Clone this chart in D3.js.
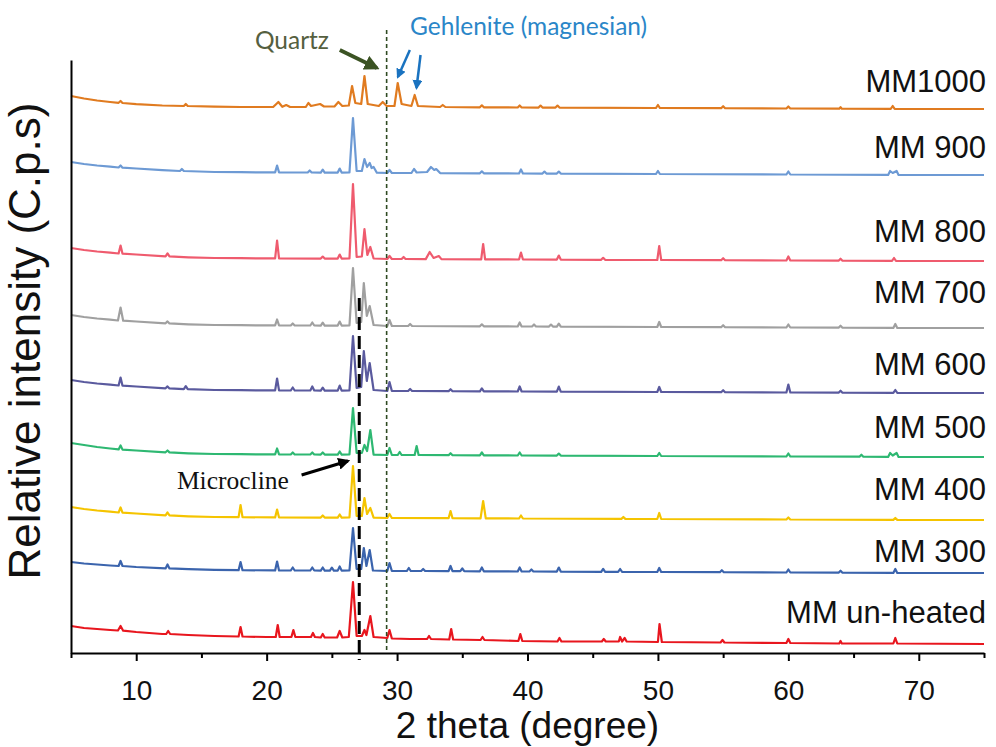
<!DOCTYPE html>
<html>
<head>
<meta charset="utf-8">
<script src="https://cdn.jsdelivr.net/npm/d3@7"></script>
<style>
  body { margin: 0; background: #fff; }
  svg { display: block; }
</style>
</head>
<body>
<svg width="996" height="747"></svg>
<script>
// sample names, bottom to top, and their line colours
var names = ["MM un-heated", "MM 300", "MM 400", "MM 500", "MM 600", "MM 700", "MM 800", "MM 900", "MM1000"];
var colors = ["#e8161e", "#3b64ad", "#f5c400", "#2eb872", "#5a5a9e", "#a0a0a0", "#ef5b6e", "#6d9ad4", "#e07b20"];
// vertical shift of each pattern (C.p.s)
var offsets = [1, 72, 125, 188, 252, 317, 384, 470, 536];
// where each name sits on the intensity scale
var labelAt = [29.7, 91.3, 153, 214.7, 278, 349.7, 411.3, 494.7, 561.3];

// diffractograms: [2 theta, intensity]
var unheated = [[5,26],[6,24],[7,23],[8,22],[8.6,21.5],[8.8,26],[9.0,21.3],[10,20],[12,18],[12.3,18],[12.45,21],[12.6,18],[14,17],[16,16],[17.85,15.5],[18.0,25],[18.15,15.5],[20,15],[20.7,15],[20.85,27],[21.0,15],[21.9,15],[22.05,22],[22.2,15],[23.4,15],[23.55,19],[23.7,15],[24.15,14.5],[24.3,18],[24.45,14.5],[25.4,14.5],[25.6,21],[25.8,14.5],[26.3,15],[26.62,70],[26.9,16],[27.3,16],[27.5,22],[27.65,17],[27.95,36],[28.2,15],[29.25,14],[29.42,22],[29.6,13.5],[31,13],[32.3,13],[32.45,16],[32.6,13],[34,12.5],[34.15,23],[34.3,12.5],[36.4,12],[36.55,15],[36.7,12],[39.3,11],[39.45,18],[39.6,11],[42.3,10.5],[42.45,14],[42.6,10.5],[45.7,10.5],[45.85,13],[46,10.5],[47,10.5],[47.1,15],[47.25,10.5],[47.45,14],[47.6,10.5],[50,10],[50.12,28],[50.3,10],[54.8,9.5],[54.95,12],[55.1,9.5],[59.85,9],[60,13],[60.15,9],[63.9,8.5],[64.0,11],[64.1,8.5],[68.05,8.5],[68.2,14],[68.35,8.5],[75,8]];

var mm300 = [[5,19],[6,17.5],[7,16.5],[8,15.5],[8.65,15],[8.8,20],[8.95,15],[10,14],[12.25,12.6],[12.4,16.5],[12.55,12.6],[14,11.8],[16,11.2],[17.85,10.8],[18,19],[18.15,10.8],[20.65,10.6],[20.8,19.5],[20.95,10.6],[21.85,10.5],[22,13.5],[22.15,10.5],[23.35,10.5],[23.5,13.5],[23.65,10.5],[24.15,10.4],[24.3,13.5],[24.45,10.4],[24.85,10.4],[25,13.4],[25.15,10.4],[25.45,10.4],[25.6,14.5],[25.75,10.4],[26.35,10.5],[26.62,53],[26.9,12],[27.25,12],[27.45,33],[27.65,15],[27.9,31],[28.15,10.5],[29.25,10],[29.42,18],[29.6,10],[30.75,10],[30.9,13],[31.05,10],[31.85,10],[32,12],[32.15,10],[33.95,9.8],[34.1,15],[34.25,9.8],[34.85,9.8],[35,12.5],[35.15,9.8],[36.35,9.7],[36.5,13.5],[36.65,9.7],[39.25,9.5],[39.4,13.5],[39.55,9.5],[40.15,9.5],[40.3,11.5],[40.45,9.5],[42.25,9.4],[42.4,13.4],[42.55,9.4],[45.65,9.2],[45.8,12.2],[45.95,9.2],[46.95,9.1],[47.1,12],[47.25,9.1],[49.95,9],[50.1,13],[50.25,9],[54.75,8.8],[54.9,10.8],[55.05,8.8],[59.85,8.5],[60,11.5],[60.15,8.5],[63.85,8.3],[64,10.3],[64.15,8.3],[68.05,8.1],[68.2,12],[68.35,8.1],[75,8]];

var mm400 = [[5,21],[6,19],[7,17.5],[8,16.3],[8.65,15.5],[8.8,20.5],[8.95,15.3],[10,14.5],[12.25,12.7],[12.4,15.5],[12.55,12.6],[14,11.7],[16,11],[17.85,10.8],[18,23],[18.15,10.8],[20.65,10.6],[20.8,18.5],[20.95,10.6],[24.15,10.4],[24.3,12.5],[24.45,10.4],[25.45,10.4],[25.6,13.5],[25.75,10.4],[26.35,10.5],[26.62,62],[26.9,12],[27.3,12],[27.5,30],[27.7,14],[27.95,20],[28.2,10.3],[29.25,10],[29.42,14],[29.6,10],[33.95,9.8],[34.1,17],[34.25,9.8],[36.4,9.7],[36.6,27],[36.8,9.7],[39.35,9.5],[39.5,12.5],[39.65,9.5],[47.2,9.1],[47.35,11],[47.5,9.1],[49.95,9],[50.1,15],[50.25,9],[59.85,8.5],[60,10.5],[60.15,8.5],[68.05,8.1],[68.2,10],[68.35,8.1],[75,8]];

var mm500 = [[5,22],[6,20],[7,18],[8,16.5],[8.65,15.6],[8.8,19.5],[8.95,15.4],[10,14.5],[12.25,12.7],[12.4,14.5],[12.55,12.6],[14,11.7],[16,11],[18,10.8],[20.65,10.6],[20.8,16.5],[20.95,10.6],[21.85,10.5],[22,12.5],[22.15,10.5],[23.35,10.5],[23.5,12.5],[23.65,10.5],[24.15,10.4],[24.3,12.5],[24.45,10.4],[25.45,10.4],[25.6,13.5],[25.75,10.4],[26.35,10.5],[26.62,57],[26.9,12],[27.3,12],[27.5,20],[27.7,14],[27.95,35],[28.2,10.3],[29.25,10],[29.42,17],[29.6,10],[30.05,10],[30.2,13],[30.35,10],[31.35,10],[31.5,19],[31.65,10],[33.95,9.8],[34.1,11.8],[34.25,9.8],[36.35,9.7],[36.5,12.5],[36.65,9.7],[39.25,9.5],[39.4,12.5],[39.55,9.5],[42.25,9.4],[42.4,11.4],[42.55,9.4],[49.95,9],[50.1,12],[50.25,9],[59.85,8.5],[60,11.5],[60.15,8.5],[65.45,8.3],[65.6,10.3],[65.75,8.3],[67.65,8.1],[67.8,12],[68.0,9.5],[68.3,12],[68.45,8.1],[75,8]];

var mm600 = [[5,21],[6,19],[7,17.5],[8,16.3],[8.65,15.5],[8.8,23.5],[8.95,15.3],[10,14.5],[12.25,12.7],[12.4,14.6],[12.55,12.6],[13.65,11.8],[13.8,14.8],[13.95,11.8],[16,11],[18,10.8],[20.65,10.6],[20.8,22.5],[20.95,10.6],[21.85,10.5],[22,13.5],[22.15,10.5],[23.35,10.5],[23.5,14.5],[23.65,10.5],[24.15,10.4],[24.3,13.4],[24.45,10.4],[25.45,10.4],[25.6,15.4],[25.75,10.4],[26.35,10.5],[26.62,65],[26.9,13],[27.25,14],[27.45,50],[27.68,20],[27.9,38],[28.2,11],[29.25,10],[29.42,19],[29.6,10],[30.85,10],[31,12],[31.15,10],[33.95,9.8],[34.1,11.8],[34.25,9.8],[36.35,9.7],[36.5,12.7],[36.65,9.7],[39.25,9.5],[39.4,14.5],[39.55,9.5],[42.25,9.4],[42.4,14.4],[42.55,9.4],[49.95,9],[50.1,14],[50.25,9],[54.85,8.8],[55,10.8],[55.15,8.8],[59.85,8.5],[60,16.5],[60.15,8.5],[63.85,8.3],[64,10.3],[64.15,8.3],[68.05,8.1],[68.2,11],[68.35,8.1],[75,8]];

var mm700 = [[5,21],[6,19],[7,17.5],[8,16.3],[8.6,15.5],[8.8,28.5],[9.0,15.3],[10,14.5],[12.25,12.7],[12.4,14.6],[12.55,12.6],[14,11.7],[16,11],[18,10.8],[20.65,10.6],[20.8,16.5],[20.95,10.6],[21.85,10.5],[22,12.5],[22.15,10.5],[23.35,10.5],[23.5,13.5],[23.65,10.5],[24.15,10.4],[24.3,13.4],[24.45,10.4],[25.45,10.4],[25.6,14.4],[25.75,10.4],[26.35,10.5],[26.62,68],[26.9,13],[27.25,14],[27.45,53],[27.68,20],[27.9,30],[28.2,11],[29.25,10],[29.42,16],[29.6,10],[30.85,10],[31,12],[31.15,10],[36.35,9.7],[36.5,11.7],[36.65,9.7],[39.25,9.5],[39.4,13.5],[39.55,9.5],[40.35,9.5],[40.5,11.5],[40.65,9.5],[41.65,9.4],[41.8,11.4],[41.95,9.4],[42.25,9.4],[42.4,12.4],[42.55,9.4],[49.95,9],[50.1,14],[50.25,9],[54.85,8.8],[55,10.8],[55.15,8.8],[59.85,8.5],[60,11.5],[60.15,8.5],[63.85,8.3],[64,10.3],[64.15,8.3],[68.05,8.1],[68.2,12],[68.35,8.1],[75,8]];

var mm800 = [[5,21],[6,19],[7,17.5],[8,16.3],[8.65,15.5],[8.8,23.5],[8.95,15.3],[10,14.5],[12.25,12.7],[12.4,15.6],[12.55,12.6],[14,11.7],[16,11],[18,10.8],[20.65,10.6],[20.8,28.5],[20.95,10.6],[24.15,10.4],[24.3,12.4],[24.45,10.4],[25.45,10.4],[25.6,14.4],[25.75,10.4],[26.35,10.5],[26.62,85],[26.9,12],[27.3,12.5],[27.5,40],[27.72,14],[27.95,22],[28.2,10.5],[29.25,10],[29.42,13],[29.6,10],[30.35,10],[30.5,12],[30.65,10],[32.2,9.9],[32.5,17],[32.8,11],[33.2,13],[33.4,9.9],[36.45,9.7],[36.6,25],[36.75,9.7],[39.35,9.5],[39.5,16.5],[39.65,9.5],[42.25,9.4],[42.4,13.4],[42.55,9.4],[45.65,9.2],[45.8,11.2],[45.95,9.2],[49.95,9],[50.1,23],[50.25,9],[54.85,8.8],[55,10.8],[55.15,8.8],[59.85,8.5],[60,12.5],[60.15,8.5],[63.85,8.3],[64,10.3],[64.15,8.3],[67.95,8.1],[68.1,11],[68.25,8.1],[75,8]];

var mm900 = [[5,21],[6,19],[7,17.5],[8,16.3],[8.65,15.5],[8.8,17.5],[8.95,15.3],[10,14.5],[12,12.8],[13.35,12],[13.5,14],[13.65,12],[16,11],[18,10.8],[20.65,10.6],[20.8,17.5],[20.95,10.6],[23.15,10.5],[23.3,12.5],[23.45,10.5],[24.15,10.4],[24.3,13.4],[24.45,10.4],[25.45,10.4],[25.6,14.4],[25.75,10.4],[26.35,10.5],[26.62,65],[26.9,12],[27.3,12],[27.5,24],[27.7,16],[27.9,20],[28.05,15],[28.2,16],[28.45,10.3],[29.25,10],[29.42,13],[29.6,10],[31.1,10],[31.3,14],[31.5,10.5],[32.3,11],[32.6,16],[32.85,13],[33.0,14],[33.3,9.9],[36.35,9.7],[36.5,11.7],[36.65,9.7],[39.35,9.5],[39.5,13.5],[39.65,9.5],[41.15,9.4],[41.3,11.4],[41.45,9.4],[42.25,9.4],[42.4,11.4],[42.55,9.4],[49.85,9],[50,12],[50.15,9],[59.85,8.5],[60,11.5],[60.15,8.5],[67.65,8.1],[67.8,12],[68.0,10],[68.3,12],[68.45,8.1],[75,8]];

var mm1000 = [[5,21],[6,18.5],[7,16.5],[8,15],[8.65,14.2],[8.8,16],[8.95,14],[10,12.8],[12,11.5],[13.65,11],[13.8,13],[13.95,11],[16,10.3],[18,10],[20.5,10],[20.9,15],[21.2,10.2],[21.5,12],[21.8,10],[23.0,10],[23.2,14],[23.4,11],[24.1,13],[24.4,10.5],[25.2,10.5],[25.5,15],[25.8,11],[26.3,11.5],[26.55,31],[26.8,14],[27.25,13],[27.5,41],[27.75,13],[28.6,11],[28.9,15],[29.2,11],[29.8,11],[30.05,34],[30.35,13],[31.1,11],[31.35,22],[31.6,11],[33.3,10],[33.5,12],[33.7,10],[36.35,9.7],[36.5,11.7],[36.65,9.7],[39.25,9.5],[39.4,11.5],[39.55,9.5],[40.85,9.4],[41,11.4],[41.15,9.4],[42.15,9.4],[42.3,11.4],[42.45,9.4],[49.85,9],[50,12],[50.15,9],[54.85,8.8],[55,10.8],[55.15,8.8],[59.85,8.5],[60,10.5],[60.15,8.5],[63.9,8.3],[64,9.8],[64.1,8.3],[67.85,8.1],[68,11],[68.15,8.1],[75,8]];

var patterns = [unheated, mm300, mm400, mm500, mm600, mm700, mm800, mm900, mm1000];

// phase markers, in 2 theta
var microclineAt = 27.1;
var quartzLineAt = 29.2;

var svg = d3.select("svg");

var x = d3.scaleLinear().domain([5, 75]).range([71, 984]);
var y = d3.scaleLinear().domain([0, 593]).range([653, 60]);

var line = d3.line()
    .x(function(d) { return x(d[0]); })
    .y(function(d) { return y(d[1]); });

// traces, each lifted by its offset
svg.append("g")
  .selectAll("path")
  .data(patterns)
  .enter().append("path")
    .attr("fill", "none")
    .attr("stroke", function(d, i) { return colors[i]; })
    .attr("stroke-width", 2.2)
    .attr("stroke-linejoin", "round")
    .attr("d", function(d, i) {
      return line(d.map(function(p) { return [p[0], p[1] + offsets[i]]; }));
    });

// sample names
svg.append("g")
  .selectAll("text")
  .data(names)
  .enter().append("text")
    .attr("x", 986)
    .attr("y", function(d, i) { return y(labelAt[i]); })
    .attr("text-anchor", "end")
    .attr("font-family", "Liberation Sans, Arial, sans-serif")
    .attr("font-size", "31px")
    .attr("fill", "#111")
    .text(function(d) { return d; });

// dashed phase lines
svg.append("line")
    .attr("x1", x(quartzLineAt)).attr("x2", x(quartzLineAt))
    .attr("y1", y(623)).attr("y2", y(0))
    .attr("stroke", "#2f4a22")
    .attr("stroke-width", 1.6)
    .attr("stroke-dasharray", "4,3");

svg.append("line")
    .attr("x1", x(microclineAt)).attr("x2", x(microclineAt))
    .attr("y1", y(355)).attr("y2", y(-7))
    .attr("stroke", "#000")
    .attr("stroke-width", 3)
    .attr("stroke-dasharray", "13,6");

// arrow heads
var defs = svg.append("defs");
function marker(id, color) {
  defs.append("marker")
      .attr("id", id)
      .attr("viewBox", "0 0 10 10")
      .attr("refX", 8).attr("refY", 5)
      .attr("markerWidth", 4).attr("markerHeight", 4)
      .attr("markerUnits", "strokeWidth")
      .attr("orient", "auto")
    .append("path")
      .attr("d", "M0,0L10,5L0,10z")
      .attr("fill", color);
}
marker("headGreen", "#3b5323");
marker("headBlue", "#1a73c0");
marker("headBlack", "#000");

function arrow(a, b, color, width, head) {
  svg.append("line")
      .attr("x1", x(a[0])).attr("y1", y(a[1]))
      .attr("x2", x(b[0])).attr("y2", y(b[1]))
      .attr("stroke", color)
      .attr("stroke-width", width)
      .attr("marker-end", "url(#" + head + ")");
}
arrow([25.61, 603], [28.45, 585], "#3b5323", 3.8, "headGreen");
arrow([30.98, 603], [30.06, 576], "#1a73c0", 2.5, "headBlue");
arrow([31.8, 598], [31.49, 565], "#1a73c0", 2.5, "headBlue");
arrow([22.68, 178], [26.23, 192], "#000", 3, "headBlack");

// annotation text
svg.append("text")
    .attr("x", x(19.1)).attr("y", y(604))
    .attr("font-family", "Lato, Open Sans, sans-serif")
    .attr("font-size", "24.5px")
    .attr("fill", "#55603f")
    .text("Quartz");

svg.append("text")
    .attr("x", x(31.0)).attr("y", y(618))
    .attr("font-family", "Lato, Open Sans, sans-serif")
    .attr("font-size", "24.5px")
    .attr("fill", "#2a86c8")
    .text("Gehlenite (magnesian)");

svg.append("text")
    .attr("x", x(13.12)).attr("y", y(164))
    .attr("font-family", "Liberation Serif, Times New Roman, serif")
    .attr("font-size", "25.5px")
    .attr("fill", "#111")
    .text("Microcline");

// axes
var xAxis = svg.append("g")
    .attr("transform", "translate(0," + y(0) + ")")
    .call(d3.axisBottom(x).tickValues([10, 20, 30, 40, 50, 60, 70])
      .tickSize(8).tickSizeOuter(0).tickPadding(19)
      .tickFormat(d3.format("d")));
xAxis.select(".domain").attr("stroke-width", 2);
xAxis.selectAll(".tick line").attr("stroke-width", 2);
xAxis.selectAll("text")
    .attr("font-family", "Liberation Sans, Arial, sans-serif")
    .attr("font-size", "28px")
    .attr("fill", "#111");

svg.append("g")
    .attr("transform", "translate(0," + y(0) + ")")
    .call(d3.axisBottom(x).tickValues([5, 15, 25, 35, 45, 55, 65, 75])
      .tickSize(5).tickSizeOuter(0).tickFormat(""))
  .call(function(g) {
    g.select(".domain").remove();
    g.selectAll(".tick line").attr("stroke-width", 2);
  });

var yAxis = svg.append("g")
    .attr("transform", "translate(" + x(5) + ",0)")
    .call(d3.axisLeft(y).tickValues([]).tickSizeOuter(0));
yAxis.select(".domain").attr("stroke-width", 2);

svg.append("text")
    .attr("x", (x(5) + x(75)) / 2)
    .attr("y", 738)
    .attr("text-anchor", "middle")
    .attr("font-family", "Liberation Sans, Arial, sans-serif")
    .attr("font-size", "37px")
    .attr("fill", "#111")
    .text("2 theta (degree)");

svg.append("text")
    .attr("transform", "translate(40,341) rotate(-90)")
    .attr("text-anchor", "middle")
    .attr("font-family", "Liberation Sans, Arial, sans-serif")
    .attr("font-size", "44px")
    .attr("fill", "#111")
    .text("Relative intensity (C.p.s)");
</script>
</body>
</html>
